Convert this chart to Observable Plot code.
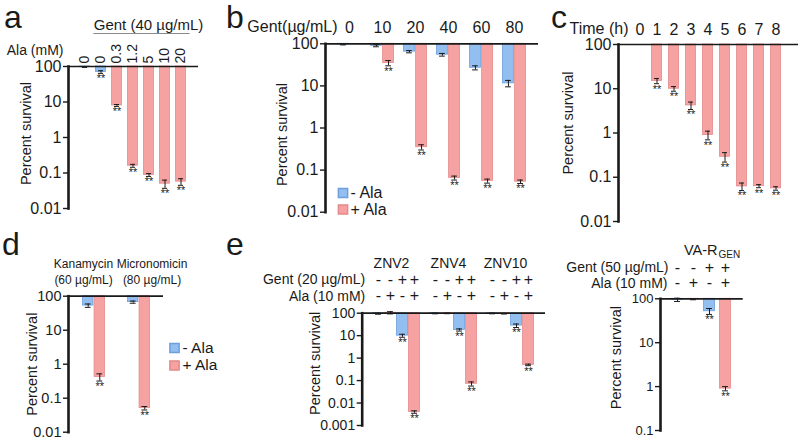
<!DOCTYPE html>
<html>
<head>
<meta charset="utf-8">
<script src="https://cdn.jsdelivr.net/npm/d3@7"></script>
<script src="https://cdn.jsdelivr.net/npm/@observablehq/plot@0.6"></script>
<style>
  html, body { margin: 0; padding: 0; background: #fff; }
  #fig { position: relative; width: 800px; height: 440px; overflow: hidden; background: #fff;
         font-family: "Liberation Sans", Arial, Helvetica, sans-serif; color: #1a1a1a; }
  .panel { position: absolute; }
  .panel svg { overflow: visible; max-width: none !important; display: block; }
  .letter { position: absolute; font-size: 32px; line-height: 32px; }
</style>
</head>
<body>
<div id="fig"></div>
<script>
// ---------------- data ----------------
// panel a : Ala dose with Gent 40 µg/mL
const aAla = ["0", "0", "0.3", "1.2", "5", "10", "20"];
const aSurvival = [97, 70, 8, 0.16, 0.088, 0.05, 0.057];
const aError = [3, 6, 0.5, 0.015, 0.008, 0.013, 0.012];
const aStar = [false, true, true, true, true, true, true];

// panel b : Gent dose, - / + Ala
const bGent = ["0", "10", "20", "40", "60", "80"];
const bMinusAla = [97, 90, 65, 55, 27, 11.5];
const bMinusAlaErr = [3, 5, 4, 4, 3, 2];
const bPlusAla = [100, 35, 0.35, 0.065, 0.055, 0.053];
const bPlusAlaErr = [0, 5, 0.05, 0.007, 0.006, 0.005];
const bStar = [false, true, true, true, true, true];

// panel c : time course
const cTime = ["0", "1", "2", "3", "4", "5", "6", "7", "8"];
const cSurvival = [100, 15, 10, 4.2, 0.9, 0.29, 0.062, 0.063, 0.056];
const cError = [0, 2, 1.2, 0.8, 0.2, 0.07, 0.012, 0.005, 0.005];

// panel d : other aminoglycosides
const dDrug = ["Kanamycin\n(60 µg/mL)", "Micronomicin\n(80 µg/mL)"];
const dMinusAla = [53, 67];
const dMinusAlaErr = [6, 5];
const dPlusAla = [0.42, 0.051];
const dPlusAlaErr = [0.1, 0.006];

// panel e (left) : clinical strains, conditions -- -+ +- ++
const eStrain = ["ZNV2", "ZNV4", "ZNV10"];
const eGentSign = ["-", "-", "+", "+"];
const eAlaSign = ["-", "+", "-", "+"];
const eZNV2 = [95, 105, 10, 0.004];
const eZNV2Err = [5, 12, 1.5, 0.0005];
const eZNV4 = [97, 98, 18, 0.072];
const eZNV4Err = [3, 3, 2, 0.015];
const eZNV10 = [97, 95, 28, 0.5];
const eZNV10Err = [3, 3, 5, 0.04];

// panel e (right) : VA-R_GEN
const vaSurvival = [95, 98, 52, 0.9];
const vaError = [8, 3, 8, 0.1];

// ---------------- style ----------------
const FONT = '"Liberation Sans", Arial, Helvetica, sans-serif';
const INK = "#1a1a1a";
const BLUE = "#93bff0", BLUE_EDGE = "#6c9fdb";
const RED = "#f7a2a2", RED_EDGE = "#e38a8a";

const fig = document.getElementById("fig");
function place(node, left, top, L) {
  const div = document.createElement("div");
  div.className = "panel";
  div.style.left = left + "px";
  div.style.top = top + "px";
  div.style.width = L.width + "px";
  div.style.height = L.height + "px";
  div.appendChild(node);
  fig.appendChild(div);
}
function letter(t, left, top) {
  const div = document.createElement("div");
  div.className = "letter";
  div.textContent = t;
  div.style.left = left + "px";
  div.style.top = top + "px";
  fig.appendChild(div);
}
function style(fs) {
  return {fontFamily: FONT, fontSize: fs + "px", color: INK, background: "transparent", overflow: "visible"};
}
function bandStep(L, n, pad) {
  return (L.width - L.marginLeft - L.marginRight) / (n - pad.paddingInner + 2 * pad.paddingOuter);
}
function bandwidthOf(L, n, pad) {
  return bandStep(L, n, pad) * (1 - pad.paddingInner);
}
function series(rows, {bw, slot = 0, slots = 1, fill, stroke, cap = 6}) {
  const sub = bw / slots;
  const dx = (slot + 0.5) * sub - bw / 2;
  const capInset = (bw - cap) / 2;
  const bars = rows.filter(d => d.v !== 100);
  const errs = rows.filter(d => d.err > 0);
  const stars = rows.filter(d => d.star);
  return [
    Plot.barY(bars, {x: "x", y1: () => 100, y2: "v", fill, stroke, strokeWidth: 0.8,
      insetLeft: slot * sub + 0.5, insetRight: (slots - 1 - slot) * sub + 0.5}),
    Plot.ruleX(errs, {x: "x", y1: d => d.v - d.err, y2: d => d.v + d.err, dx, stroke: INK, strokeWidth: 1}),
    Plot.tickY(errs, {x: "x", y: d => d.v - d.err, dx, insetLeft: capInset, insetRight: capInset, stroke: INK, strokeWidth: 1}),
    Plot.tickY(errs, {x: "x", y: d => d.v + d.err, dx, insetLeft: capInset, insetRight: capInset, stroke: INK, strokeWidth: 1}),
    Plot.text(stars, {x: "x", y: d => d.v - d.err, dx, dy: 1, text: () => "**", lineAnchor: "top", fontSize: 11, fill: INK})
  ];
}
function axes(ticks, fontSize) {
  return [
    Plot.ruleY([100], {stroke: INK, strokeWidth: 1.7}),
    Plot.frame({anchor: "left", stroke: INK, strokeWidth: 2.6}),
    Plot.axisY({ticks, tickFormat: d => String(d), tickSize: 5, tickPadding: 2, label: null, fontSize, strokeWidth: 1.4})
  ];
}
function note(text, opts = {}) {
  const {frameAnchor = "top-left", dx = 0, dy = 0, textAnchor = "middle", lineAnchor = "middle", fontSize = 14, ...rest} = opts;
  return Plot.text([text], {text: d => d, frameAnchor, dx, dy, textAnchor, lineAnchor, fontSize, fill: INK, ...rest});
}
function yLabel(dx, dy) {
  return Plot.text(["Percent survival"], {text: d => d, frameAnchor: "left", rotate: -90, dx, dy,
    textAnchor: "middle", lineAnchor: "middle", fontSize: 14.5, fill: INK});
}

// ---------------- panel a ----------------
{
  const L = {width: 200, height: 215, marginLeft: 68, marginRight: 2, marginTop: 66, marginBottom: 7};
  const pad = {paddingInner: 0.3, paddingOuter: 0.5};
  const keys = aAla.map((_, i) => i);
  const step = bandStep(L, keys.length, pad);
  const bw = bandwidthOf(L, keys.length, pad);
  const frameW = L.width - L.marginLeft - L.marginRight;
  // the Gent bracket spans the bands of the Gent-treated bars (index 1 .. last)
  const first = 1, last = keys.length - 1;
  const bracketLeft = step * pad.paddingOuter + first * step;
  const bracketRight = frameW - (step * pad.paddingOuter + last * step + bw);
  const rows = keys.map(i => ({x: i, v: aSurvival[i], err: aError[i], star: aStar[i]}));
  place(Plot.plot({
    ...L, style: style(16),
    x: {type: "band", domain: keys, ...pad},
    y: {type: "log", domain: [0.01, 100]},
    marks: [
      ...series(rows.filter(d => aAla[d.x] === "0"), {bw, fill: BLUE, stroke: BLUE_EDGE}),
      ...series(rows.filter(d => aAla[d.x] !== "0"), {bw, fill: RED, stroke: RED_EDGE}),
      ...axes([0.01, 0.1, 1, 10, 100], 16),
      Plot.axisX({anchor: "top", tickSize: 0, tickPadding: 3, tickRotate: -90, tickFormat: i => aAla[i], label: null, fontSize: 14}),
      note("Gent (40 µg/mL)", {dx: 80, dy: -41, fontSize: 15}),
      Plot.ruleY([100], {dy: -33, insetLeft: bracketLeft, insetRight: bracketRight, stroke: "#8a8a8a", strokeWidth: 1.2}),
      note("Ala (mM)", {dx: -5, dy: -16, textAnchor: "end"}),
      yLabel(-42, -4)
    ]
  }), 0, 0, L);
}

// ---------------- panel b ----------------
{
  const L = {width: 345, height: 220, marginLeft: 125, marginRight: 7, marginTop: 43.3, marginBottom: 8.3};
  const pad = {paddingInner: 0.27, paddingOuter: 0.34};
  const bw = bandwidthOf(L, bGent.length, pad);
  const minus = bGent.map((g, i) => ({x: g, v: bMinusAla[i], err: bMinusAlaErr[i], star: false}));
  const plus = bGent.map((g, i) => ({x: g, v: bPlusAla[i], err: bPlusAlaErr[i], star: bStar[i]}));
  place(Plot.plot({
    ...L, style: style(16),
    x: {type: "band", domain: bGent, ...pad},
    y: {type: "log", domain: [0.01, 100]},
    marks: [
      ...series(minus, {bw, slot: 0, slots: 2, fill: BLUE, stroke: BLUE_EDGE}),
      ...series(plus, {bw, slot: 1, slots: 2, fill: RED, stroke: RED_EDGE}),
      ...axes([0.01, 0.1, 1, 10, 100], 16),
      Plot.axisX({anchor: "top", tickSize: 0, tickPadding: 11, label: null, fontSize: 16}),
      note("Gent(µg/mL)", {dx: 12, dy: -17, textAnchor: "end", fontSize: 16}),
      Plot.dot(["- Ala"], {frameAnchor: "bottom-left", dx: 17.5, dy: -19.2, symbol: "square", r: 5.2, fill: BLUE, stroke: BLUE_EDGE}),
      Plot.dot(["+ Ala"], {frameAnchor: "bottom-left", dx: 17.5, dy: -2.7, symbol: "square", r: 5.2, fill: RED, stroke: RED_EDGE}),
      note("- Ala", {frameAnchor: "bottom-left", dx: 25, dy: -19.2, textAnchor: "start", fontSize: 16}),
      note("+ Ala", {frameAnchor: "bottom-left", dx: 25, dy: -2.7, textAnchor: "start", fontSize: 16}),
      yLabel(-43, 6.5)
    ]
  }), 200, 0, L);
}

// ---------------- panel c ----------------
{
  const L = {width: 250, height: 228, marginLeft: 68, marginRight: 2, marginTop: 44, marginBottom: 7};
  const pad = {paddingInner: 0.33, paddingOuter: 0.67};
  const bw = bandwidthOf(L, cTime.length, pad);
  const rows = cTime.map((t, i) => ({x: t, v: cSurvival[i], err: cError[i], star: i > 0}));
  place(Plot.plot({
    ...L, style: style(16),
    x: {type: "band", domain: cTime, ...pad},
    y: {type: "log", domain: [0.01, 100]},
    marks: [
      ...series(rows, {bw, fill: RED, stroke: RED_EDGE}),
      ...axes([0.01, 0.1, 1, 10, 100], 16),
      Plot.axisX({anchor: "top", tickSize: 0, tickPadding: 10, label: null, fontSize: 16}),
      note("Time (h)", {dx: 10, dy: -16, textAnchor: "end", fontSize: 16}),
      yLabel(-50, -10)
    ]
  }), 550, 0, L);
}

// ---------------- panel d ----------------
{
  const L = {width: 250, height: 210, marginLeft: 68, marginRight: 87, marginTop: 65.7, marginBottom: 8.3};
  const pad = {paddingInner: 0.49, paddingOuter: 0.29};
  const bw = bandwidthOf(L, dDrug.length, pad);
  const minus = dDrug.map((g, i) => ({x: g, v: dMinusAla[i], err: dMinusAlaErr[i], star: false}));
  const plus = dDrug.map((g, i) => ({x: g, v: dPlusAla[i], err: dPlusAlaErr[i], star: true}));
  place(Plot.plot({
    ...L, style: style(14),
    x: {type: "band", domain: dDrug, ...pad, axis: null},
    y: {type: "log", domain: [0.01, 100]},
    marks: [
      ...series(minus, {bw, slot: 0, slots: 2, fill: BLUE, stroke: BLUE_EDGE}),
      ...series(plus, {bw, slot: 1, slots: 2, fill: RED, stroke: RED_EDGE}),
      ...axes([0.01, 0.1, 1, 10, 100], 14.5),
      Plot.text([dDrug[0]], {x: d => d, text: d => d, frameAnchor: "top", dx: -10.5, dy: -25.5, lineAnchor: "middle", fontSize: 12, lineHeight: 1.35, fill: INK}),
      Plot.text([dDrug[1]], {x: d => d, text: d => d, frameAnchor: "top", dx: 13, dy: -25.5, lineAnchor: "middle", fontSize: 12, lineHeight: 1.35, fill: INK}),
      Plot.dot(["- Ala"], {frameAnchor: "top-right", dx: 11, dy: 51.8, symbol: "square", r: 5.2, fill: BLUE, stroke: BLUE_EDGE}),
      Plot.dot(["+ Ala"], {frameAnchor: "top-right", dx: 11, dy: 69.3, symbol: "square", r: 5.2, fill: RED, stroke: RED_EDGE}),
      note("- Ala", {frameAnchor: "top-right", dx: 19, dy: 51.8, textAnchor: "start", fontSize: 15.5}),
      note("+ Ala", {frameAnchor: "top-right", dx: 19, dy: 69.3, textAnchor: "start", fontSize: 15.5}),
      yLabel(-36, 0)
    ]
  }), 0, 230, L);
}

// ---------------- panel e (left) ----------------
{
  const L = {width: 300, height: 210, marginLeft: 111.7, marginRight: 5, marginTop: 82.7, marginBottom: 15};
  const pad = {paddingInner: 0.16, paddingOuter: 0.18};
  const bw = bandwidthOf(L, eStrain.length, pad);
  const vals = [eZNV2, eZNV4, eZNV10];
  const errs = [eZNV2Err, eZNV4Err, eZNV10Err];
  const marks = [];
  eGentSign.forEach((_, k) => {
    const rows = eStrain.map((s, j) => ({x: s, v: vals[j][k], err: errs[j][k], star: eGentSign[k] === "+"}));
    const minusAla = eAlaSign[k] === "-";
    marks.push(...series(rows, {bw, slot: k, slots: 4, fill: minusAla ? BLUE : RED, stroke: minusAla ? BLUE_EDGE : RED_EDGE}));
  });
  marks.push(...axes([0.001, 0.01, 0.1, 1, 10, 100], 14));
  marks.push(Plot.text(eStrain, {x: d => d, text: d => d, frameAnchor: "top", dx: -5, dy: -49.7, lineAnchor: "middle", fontSize: 14, fill: INK}));
  eGentSign.forEach((_, k) => {
    const dx = (k + 0.5) * bw / 4 - bw / 2;
    marks.push(Plot.text(eStrain, {x: d => d, text: () => eGentSign[k], frameAnchor: "top", dx, dy: -33.7, lineAnchor: "middle", fontSize: 16, fill: INK}));
    marks.push(Plot.text(eStrain, {x: d => d, text: () => eAlaSign[k], frameAnchor: "top", dx, dy: -17, lineAnchor: "middle", fontSize: 16, fill: INK}));
  });
  marks.push(note("Gent (20 µg/mL)", {dx: 3, dy: -33.7, textAnchor: "end", fontSize: 14}));
  marks.push(note("Ala (10 mM)", {dx: 3, dy: -17, textAnchor: "end", fontSize: 14}));
  marks.push(yLabel(-46.7, -6));
  place(Plot.plot({
    ...L, style: style(14),
    x: {type: "band", domain: eStrain, ...pad, axis: null},
    y: {type: "log", domain: [0.001, 100]},
    marks
  }), 250, 230, L);
}

// ---------------- panel e (right) ----------------
{
  const L = {width: 195, height: 210, marginLeft: 105, marginRight: 7.3, marginTop: 68.3, marginBottom: 10};
  const pad = {paddingInner: 0.25, paddingOuter: 0.69};
  const keys = vaSurvival.map((_, i) => i);
  const bw = bandwidthOf(L, keys.length, pad);
  const rows = keys.map(k => ({x: k, v: vaSurvival[k], err: vaError[k], star: eGentSign[k] === "+"}));
  place(Plot.plot({
    ...L, style: style(13),
    x: {type: "band", domain: keys, ...pad, axis: null},
    y: {type: "log", domain: [0.1, 100]},
    marks: [
      ...series(rows.filter(d => eAlaSign[d.x] === "-"), {bw, fill: BLUE, stroke: BLUE_EDGE}),
      ...series(rows.filter(d => eAlaSign[d.x] === "+"), {bw, fill: RED, stroke: RED_EDGE}),
      ...axes([0.1, 1, 10, 100], 13),
      note("VA-R", {dx: 57, dy: -48, textAnchor: "end", fontSize: 14.5}),
      note("GEN", {dx: 58, dy: -44, textAnchor: "start", fontSize: 10}),
      Plot.text(keys, {x: d => d, text: k => eGentSign[k], frameAnchor: "top", dy: -31, lineAnchor: "middle", fontSize: 16, fill: INK}),
      Plot.text(keys, {x: d => d, text: k => eAlaSign[k], frameAnchor: "top", dy: -15.6, lineAnchor: "middle", fontSize: 16, fill: INK}),
      note("Gent (50 µg/mL)", {dx: 8, dy: -31, textAnchor: "end", fontSize: 14}),
      note("Ala (10 mM)", {dx: 7, dy: -15.6, textAnchor: "end", fontSize: 14}),
      yLabel(-44, -7)
    ]
  }), 555, 230, L);
}

// panel letters
letter("a", 4, 1);
letter("b", 226, 1);
letter("c", 551, 1);
letter("d", 2, 228);
letter("e", 226, 228);
</script>
</body>
</html>
